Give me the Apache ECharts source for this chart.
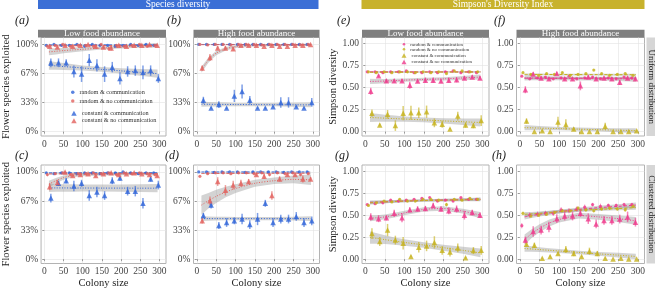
<!DOCTYPE html>
<html>
<head>
<meta charset="utf-8">
<script src="https://cdn.jsdelivr.net/npm/echarts@6/dist/echarts.min.js"></script>
<style>
html,body{margin:0;padding:0;background:#fff;}
#chart{width:655px;height:290px;}
</style>
</head>
<body>
<div id="chart"></div>
<script>
//colony sizes (x) and x positions where the fitted curves were read
var colony=[10,30,50,70,90,110,130,150,170,190,210,230,250,270,290];
var fitX=[12,30,50,75,100,150,200,250,295];
var xTicks=[0,50,100,150,200,250,300];
var spTicks=[0,1/3,2/3,1];
var siTicks=[0,0.25,0.5,0.75,1];

//points: [mean, half error bar]   rc=random&communication rn=random&no communication
//cc=constant&communication cn=constant&no communication
//fits: [fitted value, half band] at fitX

//(a) species, low food, uniform
var a_rc=[[.99,.01],[1,.005],[.99,.01],[.99,.01],[1,.005],[.98,.015],[1,.005],[.99,.01],[.99,.01],[.98,.015],[.99,.01],[1,.005],[.99,.01],[1,.005],[.99,.01]];
var a_rn=[[.98,.015],[.99,.01],[1,.005],[.98,.015],[.99,.01],[.99,.01],[.98,.015],[1,.005],[.95,.02],[.99,.01],[.98,.015],[.99,.01],[1,.005],[.98,.015],[.99,.01]];
var a_cc=[[.79,.05],[.79,.05],[.79,.04],[.69,.07],[.66,.09],[.82,.07],[.76,.07],[.66,.09],[.74,.06],[.61,.07],[.69,.06],[.70,.06],[.68,.08],[.70,.06],[.61,.05]];
var a_cn=[[.98,.02],[.97,.02],[.99,.01],[.98,.02],[.99,.01],[1,.005],[.98,.02],[.97,.02],[.96,.03],[.99,.01],[.98,.02],[.99,.01],[.99,.01],[1,.005],[.99,.01]];
var a_rcFit=[[.995,.004],[.995,.003],[.995,.003],[.995,.003],[.995,.003],[.995,.003],[.995,.003],[.995,.003],[.995,.004]];
var a_rnFit=[[.985,.006],[.985,.005],[.985,.005],[.986,.004],[.986,.004],[.987,.004],[.987,.004],[.988,.005],[.988,.006]];
var a_ccFit=[[.76,.05],[.754,.045],[.747,.04],[.739,.035],[.73,.03],[.714,.028],[.697,.03],[.68,.038],[.665,.048]];
var a_cnFit=[[.915,.04],[.922,.036],[.93,.03],[.938,.026],[.945,.022],[.959,.018],[.972,.018],[.983,.022],[.992,.026]];

//(b) species, high food, uniform
var b_rc=[[1,0],[1,0],[1,0],[1,0],[1,0],[1,0],[1,0],[1,0],[1,0],[1,0],[1,0],[1,0],[1,0],[1,0],[1,0]];
var b_rn=[[1,0],[.995,.003],[1,0],[1,0],[.995,.003],[1,0],[1,0],[1,0],[.995,.003],[1,0],[1,0],[1,0],[1,0],[.995,.003],[1,0]];
var b_cc=[[.36,.04],[.27,.01],[.31,.04],[.27,.01],[.41,.07],[.46,.08],[.36,.05],[.27,.01],[.27,.01],[.285,.01],[.335,.06],[.335,.06],[.285,.01],[.27,.01],[.335,.05]];
var b_cn=[[.73,.03],[.85,.04],[.96,.02],[.96,.02],[.95,.02],[.99,.01],[.99,.01],[.99,.01],[.98,.01],[.99,.01],[.98,.01],[.98,.01],[.99,.01],[.99,.01],[1,.005]];
var b_rcFit=[[1,.002],[1,.002],[1,.002],[1,.002],[1,.002],[1,.002],[1,.002],[1,.002],[1,.002]];
var b_rnFit=[[.998,.002],[.998,.002],[.998,.002],[.998,.002],[.998,.002],[.998,.002],[.998,.002],[.998,.002],[.998,.002]];
var b_ccFit=[[.315,.03],[.314,.027],[.313,.024],[.312,.021],[.311,.019],[.31,.018],[.309,.019],[.308,.023],[.307,.028]];
var b_cnFit=[[.71,.035],[.82,.03],[.90,.025],[.95,.02],[.975,.015],[.988,.012],[.992,.012],[.994,.012],[.995,.015]];

//(c) species, low food, clustered
var c_rc=[[.99,.01],[.98,.01],[.99,.01],[.99,.01],[.98,.01],[.99,.01],[.99,.01],[.98,.01],[.99,.01],[.99,.01],[1,.005],[.99,.01],[.98,.01],[.99,.01],[.99,.01]];
var c_rn=[[.97,.02],[.98,.015],[.99,.01],[.97,.02],[.98,.015],[.98,.015],[.99,.01],[.98,.015],[.99,.01],[.97,.02],[.99,.01],[.98,.015],[.99,.01],[.98,.015],[.97,.02]];
var c_cc=[[.70,.05],[.87,.03],[.90,.03],[.84,.06],[.87,.04],[.73,.06],[.77,.06],[.73,.05],[.90,.04],[.93,.03],[.78,.05],[.78,.06],[.64,.06],[.92,.03],[.85,.05]];
var c_cn=[[.83,.04],[.88,.03],[1,.01],[.96,.02],[.97,.02],[.98,.01],[.96,.02],[.98,.01],[.99,.01],[.97,.02],[.98,.01],[.99,.01],[.98,.01],[.97,.02],[.96,.02]];
var c_rcFit=[[.99,.004],[.99,.004],[.99,.004],[.99,.004],[.99,.004],[.99,.004],[.99,.004],[.99,.004],[.99,.004]];
var c_rnFit=[[.978,.006],[.978,.005],[.979,.005],[.979,.005],[.98,.005],[.98,.005],[.98,.005],[.981,.005],[.981,.006]];
var c_ccFit=[[.818,.048],[.817,.045],[.817,.043],[.816,.042],[.816,.041],[.815,.04],[.815,.041],[.814,.044],[.814,.048]];
var c_cnFit=[[.86,.04],[.90,.03],[.935,.025],[.96,.02],[.97,.018],[.975,.015],[.978,.015],[.98,.015],[.98,.02]];

//(d) species, high food, clustered
var d_rc=[[1,0],[1,0],[.995,.003],[1,0],[1,0],[1,0],[.995,.003],[1,0],[1,0],[1,0],[1,0],[.995,.003],[1,0],[1,0],[1,0]];
var d_rn=[[.95,.01],[.98,.01],[.99,.01],[.99,.01],[.98,.01],[.99,.01],[.99,.01],[.98,.01],[.99,.01],[.97,.02],[.99,.01],[.98,.01],[.99,.01],[.97,.02],[.98,.01]];
var d_cc=[[.50,.03],[.62,.04],[.385,.04],[.42,.05],[.44,.04],[.46,.06],[.396,.05],[.46,.07],[.64,.04],[.42,.05],[.46,.05],[.46,.05],[.49,.05],[.42,.05],[.44,.05]];
var d_cn=[[.44,.03],[.67,.05],[.89,.05],[.79,.06],[.85,.05],[.87,.04],[.89,.03],[.97,.02],[.95,.03],[.73,.05],[.92,.03],[.97,.02],[.97,.02],[.92,.04],[.92,.02]];
var d_rcFit=[[1,.002],[1,.002],[1,.002],[1,.002],[1,.002],[1,.002],[1,.002],[1,.002],[1,.002]];
var d_rnFit=[[.982,.006],[.983,.005],[.983,.005],[.984,.005],[.984,.005],[.985,.005],[.985,.005],[.986,.005],[.986,.006]];
var d_ccFit=[[.465,.028],[.465,.025],[.465,.022],[.465,.02],[.465,.019],[.465,.018],[.465,.019],[.465,.022],[.465,.027]];
var d_cnFit=[[.62,.11],[.67,.09],[.72,.075],[.77,.06],[.81,.05],[.87,.04],[.90,.038],[.915,.045],[.91,.06]];

//(e) simpson, low food, uniform
var e_rc=[[.68,.01],[.68,.01],[.67,.01],[.68,.01],[.68,.01],[.69,.01],[.67,.01],[.67,.01],[.68,.01],[.67,.01],[.68,.01],[.69,.01],[.67,.01],[.68,.01],[.67,.01]];
var e_rn=[[.68,.01],[.67,.01],[.68,.01],[.67,.01],[.68,.01],[.68,.01],[.67,.01],[.68,.01],[.67,.01],[.68,.01],[.66,.01],[.69,.01],[.69,.01],[.68,.01],[.68,.01]];
var e_cc=[[.21,.04],[.075,.015],[.196,.05],[.068,.06],[.21,.08],[.215,.08],[.215,.06],[.226,.07],[.10,.05],[.083,.04],[.03,.01],[.177,.05],[.075,.03],[.068,.03],[.125,.06]];
var e_cn=[[.46,.04],[.634,.015],[.577,.02],[.577,.02],[.577,.02],[.528,.04],[.574,.02],[.585,.03],[.585,.03],[.574,.02],[.585,.03],[.59,.03],[.61,.02],[.62,.02],[.61,.02]];
var e_rcFit=[[.68,.007],[.68,.006],[.68,.006],[.68,.005],[.68,.005],[.679,.005],[.679,.005],[.679,.006],[.679,.007]];
var e_rnFit=[[.674,.007],[.674,.006],[.675,.006],[.675,.005],[.675,.005],[.676,.005],[.677,.005],[.677,.006],[.678,.007]];
var e_ccFit=[[.16,.05],[.157,.045],[.153,.04],[.148,.035],[.143,.03],[.133,.027],[.122,.03],[.112,.036],[.103,.045]];
var e_cnFit=[[.57,.03],[.572,.027],[.575,.024],[.58,.021],[.585,.019],[.593,.018],[.60,.019],[.61,.022],[.62,.028]];

//(f) simpson, high food, uniform
var f_rc=[[.63,.01],[.60,.01],[.61,.01],[.62,.01],[.60,.01],[.61,.01],[.63,.01],[.60,.01],[.61,.01],[.62,.01],[.60,.01],[.61,.01],[.60,.01],[.62,.01],[.61,.01]];
var f_rn=[[.67,.01],[.65,.01],[.64,.01],[.66,.01],[.65,.01],[.67,.01],[.64,.01],[.65,.01],[.66,.01],[.70,.01],[.66,.01],[.64,.01],[.65,.01],[.66,.01],[.64,.01]];
var f_cc=[[.12,.03],[0,0],[.01,.01],[0,0],[.11,.06],[.08,.06],[.03,.02],[0,0],[0,0],[0,0],[.06,.04],[0,0],[0,0],[0,0],[.01,.01]];
var f_cn=[[.476,.04],[.655,.02],[.61,.02],[.60,.02],[.66,.02],[.60,.02],[.60,.02],[.52,.05],[.62,.02],[.60,.02],[.61,.02],[.60,.02],[.56,.03],[.61,.02],[.60,.02]];
var f_rcFit=[[.607,.012],[.607,.011],[.607,.01],[.607,.01],[.607,.01],[.607,.01],[.607,.01],[.607,.011],[.607,.012]];
var f_rnFit=[[.65,.012],[.65,.011],[.65,.01],[.649,.01],[.649,.01],[.648,.01],[.648,.01],[.647,.011],[.647,.012]];
var f_ccFit=[[.045,.03],[.043,.027],[.04,.024],[.037,.021],[.034,.019],[.028,.018],[.022,.019],[.016,.022],[.011,.027]];
var f_cnFit=[[.61,.03],[.61,.027],[.608,.025],[.606,.023],[.605,.022],[.603,.021],[.602,.022],[.60,.025],[.598,.03]];

//(g) simpson, low food, clustered
var g_rc=[[.62,.01],[.63,.01],[.64,.01],[.67,.01],[.66,.01],[.67,.01],[.68,.01],[.69,.01],[.70,.01],[.66,.01],[.67,.01],[.66,.01],[.70,.01],[.68,.01],[.68,.01]];
var g_rn=[[.61,.01],[.64,.01],[.66,.01],[.65,.01],[.68,.01],[.66,.01],[.66,.01],[.68,.01],[.68,.01],[.67,.01],[.62,.02],[.68,.01],[.67,.01],[.69,.01],[.68,.01]];
var g_cc=[[.29,.06],[.20,.05],[.33,.07],[.216,.05],[.18,.07],[.03,.01],[.134,.06],[.15,.06],[.19,.07],[.10,.05],[.08,.05],[.127,.05],[.015,.01],[.097,.04],[.10,.05]];
var g_cn=[[.48,.04],[.46,.04],[.47,.03],[.52,.04],[.47,.05],[.56,.03],[.57,.03],[.575,.03],[.61,.03],[.57,.03],[.55,.04],[.57,.04],[.50,.05],[.53,.03],[.50,.03]];
var g_rcFit=[[.645,.02],[.648,.018],[.652,.016],[.656,.015],[.66,.014],[.667,.013],[.672,.014],[.676,.016],[.68,.02]];
var g_rnFit=[[.64,.02],[.645,.018],[.65,.016],[.655,.015],[.66,.014],[.665,.013],[.67,.014],[.674,.016],[.678,.02]];
var g_ccFit=[[.245,.07],[.235,.06],[.222,.05],[.205,.042],[.19,.037],[.16,.032],[.13,.034],[.10,.04],[.07,.05]];
var g_cnFit=[[.465,.035],[.47,.03],[.48,.027],[.50,.027],[.525,.025],[.565,.025],[.575,.025],[.545,.027],[.50,.035]];

//(h) simpson, high food, clustered
var h_rc=[[.38,.03],[.50,.03],[.51,.03],[.52,.03],[.52,.03],[.56,.03],[.55,.03],[.57,.03],[.59,.03],[.62,.02],[.60,.03],[.61,.02],[.61,.02],[.62,.02],[.62,.02]];
var h_rn=[[.52,.02],[.49,.02],[.50,.02],[.51,.02],[.53,.02],[.55,.02],[.55,.02],[.58,.02],[.56,.02],[.55,.02],[.57,.02],[.58,.02],[.57,.02],[.56,.02],[.60,.02]];
var h_cc=[[.17,.02],[.157,.03],[.01,.005],[.03,.01],[.063,.02],[.11,.04],[.063,.03],[.03,.01],[.09,.04],[.063,.03],[.01,.005],[0,0],[.01,.005],[0,0],[0,0]];
var h_cn=[[.216,.04],[.314,.06],[.33,.05],[.365,.06],[.46,.05],[.49,.05],[.49,.05],[.52,.04],[.46,.06],[.40,.05],[.44,.05],[.44,.05],[.455,.05],[.48,.06],[.42,.05]];
var h_rcFit=[[.48,.03],[.495,.027],[.51,.025],[.525,.023],[.54,.022],[.565,.022],[.585,.022],[.60,.025],[.615,.03]];
var h_rnFit=[[.51,.025],[.515,.022],[.52,.02],[.53,.019],[.54,.018],[.555,.018],[.565,.018],[.575,.02],[.585,.025]];
var h_ccFit=[[.12,.035],[.115,.03],[.108,.027],[.10,.024],[.092,.022],[.076,.02],[.06,.022],[.045,.026],[.03,.032]];
var h_cnFit=[[.22,.06],[.29,.05],[.35,.045],[.41,.04],[.45,.035],[.495,.033],[.48,.033],[.46,.037],[.435,.045]];

var BLUE='#2f64d8', RED='#e2625e', PINK='#ef3a8c', OLIVE='#c6b11c';
var BAND='rgba(150,150,150,0.42)';
var FONT='"Liberation Serif", "DejaVu Serif", serif';

var groups=['rc','rn','cc','cn'];
var groupName={rc:'random & communication',rn:'random & no communication',cc:'constant & communication',cn:'constant & no communication'};
var dodge={rc:-5,rn:-2,cn:4,cc:7};   //position_dodge
var look={
	sp:{rc:[BLUE,'circle'],rn:[RED,'circle'],cc:[BLUE,'triangle'],cn:[RED,'triangle']},
	si:{rc:[PINK,'circle'],rn:[OLIVE,'circle'],cc:[OLIVE,'triangle'],cn:[PINK,'triangle']}
};

var rowTop=[37.5,165], rowH=98.5;
var colL=[38,193.5,362,516.5], colW=[128,126,127,128];
var panels=[
	{kind:'sp',row:0,col:0,pts:{rc:a_rc,rn:a_rn,cc:a_cc,cn:a_cn},fit:{rc:a_rcFit,rn:a_rnFit,cc:a_ccFit,cn:a_cnFit}},
	{kind:'sp',row:0,col:1,pts:{rc:b_rc,rn:b_rn,cc:b_cc,cn:b_cn},fit:{rc:b_rcFit,rn:b_rnFit,cc:b_ccFit,cn:b_cnFit}},
	{kind:'sp',row:1,col:0,pts:{rc:c_rc,rn:c_rn,cc:c_cc,cn:c_cn},fit:{rc:c_rcFit,rn:c_rnFit,cc:c_ccFit,cn:c_cnFit}},
	{kind:'sp',row:1,col:1,pts:{rc:d_rc,rn:d_rn,cc:d_cc,cn:d_cn},fit:{rc:d_rcFit,rn:d_rnFit,cc:d_ccFit,cn:d_cnFit}},
	{kind:'si',row:0,col:2,pts:{rc:e_rc,rn:e_rn,cc:e_cc,cn:e_cn},fit:{rc:e_rcFit,rn:e_rnFit,cc:e_ccFit,cn:e_cnFit}},
	{kind:'si',row:0,col:3,pts:{rc:f_rc,rn:f_rn,cc:f_cc,cn:f_cn},fit:{rc:f_rcFit,rn:f_rnFit,cc:f_ccFit,cn:f_cnFit}},
	{kind:'si',row:1,col:2,pts:{rc:g_rc,rn:g_rn,cc:g_cc,cn:g_cn},fit:{rc:g_rcFit,rn:g_rnFit,cc:g_ccFit,cn:g_cnFit}},
	{kind:'si',row:1,col:3,pts:{rc:h_rc,rn:h_rn,cc:h_cc,cn:h_cn},fit:{rc:h_rcFit,rn:h_rnFit,cc:h_ccFit,cn:h_cnFit}}
];

var grids=[], xAxes=[], yAxes=[], series=[];

function minors(t){
	var out=t.slice();
	for(var i=0;i<t.length-1;i++){ out.push((t[i]+t[i+1])/2); }
	return out;
}

//gray confidence band drawn as one polygon
function bandRender(fit){
	return function(params,api){
		if(params.dataIndex!==0){ return null; }
		var up=[], lo=[];
		for(var k=0;k<fit.length;k++){
			up.push(api.coord([fitX[k],fit[k][0]+fit[k][1]]));
			lo.unshift(api.coord([fitX[k],fit[k][0]-fit[k][1]]));
		}
		return {type:'polygon',shape:{points:up.concat(lo)},style:{fill:BAND}};
	};
}

function errRender(color,w){
	return function(params,api){
		var p1=api.coord([api.value(0),api.value(1)]);
		var p2=api.coord([api.value(0),api.value(2)]);
		return {type:'line',shape:{x1:p1[0],y1:p1[1],x2:p2[0],y2:p2[1]},style:{stroke:color,lineWidth:w,opacity:0.62}};
	};
}

panels.forEach(function(p,i){
	var sp=p.kind==='sp';
	var yt=sp?spTicks:siTicks;
	grids.push({left:colL[p.col],top:rowTop[p.row],width:colW[p.col],height:rowH,show:true,borderColor:'#b3b3b3',borderWidth:1,backgroundColor:'#fff'});
	xAxes.push({
		type:'value',gridIndex:i,min:-8.5,max:317,
		axisLine:{show:false},
		axisTick:{show:true,length:2,customValues:xTicks,lineStyle:{color:'#999'}},
		axisLabel:{customValues:xTicks,fontSize:9.5,color:'#444',margin:3,fontFamily:FONT},
		splitLine:{show:true,customValues:minors(xTicks),lineStyle:{color:'#e2e2e2',width:0.6}},
		name:p.row===1?'Colony size':'',nameLocation:'middle',nameGap:12.5,
		nameTextStyle:{fontSize:10.5,color:'#222',fontFamily:FONT}
	});
	yAxes.push({
		type:'value',gridIndex:i,min:-0.05,max:sp?1.08:1.07,
		axisLine:{show:false},
		axisTick:{show:true,length:2,customValues:yt,lineStyle:{color:'#999'}},
		axisLabel:{customValues:yt,fontSize:9.5,color:'#444',margin:3,fontFamily:FONT,
			formatter:sp?function(v){return Math.round(v*100)+'%';}:function(v){return v.toFixed(2);}},
		splitLine:{show:true,customValues:minors(yt),lineStyle:{color:'#e2e2e2',width:0.6}},
		name:(p.col===0)?'Flower species exploited':(p.col===2?'Simpson diversity':''),
		nameLocation:'middle',nameGap:p.col===0?25:23,
		nameTextStyle:{fontSize:10.5,color:'#222',fontFamily:FONT}
	});
	var lk=look[p.kind];
	//bands
	groups.forEach(function(g){
		var fit=p.fit[g];
		series.push({type:'custom',name:'band',xAxisIndex:i,yAxisIndex:i,silent:true,z:1,
			data:fit.map(function(d,k){return [fitX[k],d[0]-d[1],d[0]+d[1]];}),
			encode:{x:0,y:[1,2]},renderItem:bandRender(fit)});
	});
	//fitted lines
	groups.forEach(function(g){
		var fit=p.fit[g];
		series.push({type:'line',name:'fit',xAxisIndex:i,yAxisIndex:i,silent:true,z:2,
			smooth:0.3,symbol:'none',
			data:fit.map(function(d,k){return [fitX[k],d[0]];}),
			lineStyle:{color:lk[g][0],width:1,type:g.charAt(0)==='r'?[3,2]:[1,1.6]}});
	});
	//error bars and points
	groups.forEach(function(g){
		var tri=lk[g][1]==='triangle';
		series.push({type:'custom',name:'err',xAxisIndex:i,yAxisIndex:i,silent:true,z:3,
			data:p.pts[g].map(function(d,k){return [colony[k]+dodge[g],d[0]-d[1],d[0]+d[1]];}),
			encode:{x:0,y:[1,2]},renderItem:errRender(lk[g][0],tri?1.5:0.9)});
	});
	groups.forEach(function(g){
		var tri=lk[g][1]==='triangle';
		series.push({type:'scatter',name:groupName[g],xAxisIndex:i,yAxisIndex:i,z:4,
			symbol:lk[g][1],symbolSize:tri?5.5:3.2,
			itemStyle:{color:lk[g][0]},
			data:p.pts[g].map(function(d,k){return [colony[k]+dodge[g],d[0]];})});
	});
});

function legendItems(kind,gs){
	return gs.map(function(g){
		return {name:groupName[g],icon:look[kind][g][1],itemStyle:{color:look[kind][g][0]}};
	});
}
var legends=[
	{left:71,top:88.8,orient:'vertical',padding:0,itemWidth:3.5,itemHeight:3.5,itemGap:1.7,
		textStyle:{fontSize:6.2,lineHeight:7,color:'#333',fontFamily:FONT},data:legendItems('sp',['rc','rn'])},
	{left:71.2,top:109.8,orient:'vertical',padding:0,itemWidth:5.5,itemHeight:5,itemGap:0.4,
		textStyle:{fontSize:6.2,lineHeight:7,color:'#333',fontFamily:FONT},data:legendItems('sp',['cc','cn'])},
	{left:402.7,top:41.8,orient:'vertical',padding:0,itemWidth:2.6,itemHeight:2.6,itemGap:0,
		textStyle:{fontSize:5,lineHeight:5,color:'#333',fontFamily:FONT},data:legendItems('si',['rc','rn'])},
	{left:401.5,top:53,orient:'vertical',padding:0,itemWidth:5,itemHeight:4.5,itemGap:1.2,
		textStyle:{fontSize:5,lineHeight:5.2,color:'#333',fontFamily:FONT},data:legendItems('si',['cc','cn'])}
];

//strips, banners and panel letters
var graphics=[];
function txt(x,y,s,o){
	var st={text:s,x:0,y:0,font:(o.font||'9px')+' '+FONT,fill:o.fill||'#222',align:o.align||'center',verticalAlign:'middle'};
	return {type:'text',x:x,y:y,rotation:o.rot||0,style:st,z:10};
}
graphics.push({type:'rect',shape:{x:38,y:0,width:280.5,height:9},style:{fill:'#3b6fd6'}});
graphics.push(txt(178,4.8,'Species diversity',{font:'9.5px',fill:'#fff'}));
graphics.push({type:'rect',shape:{x:361.5,y:0,width:283,height:9},style:{fill:'#c8b22c'}});
graphics.push(txt(503,4.8,"Simpson's Diversity Index",{font:'9.5px',fill:'#fff'}));
[0,1,2,3].forEach(function(c){
	graphics.push({type:'rect',shape:{x:colL[c],y:29.8,width:colW[c],height:rowTop[0]-29.8},style:{fill:'#7f7f7f'}});
	graphics.push(txt(colL[c]+colW[c]/2,33.8,c%2===0?'Low food abundance':'High food abundance',{font:'9px',fill:'#fff'}));
});
[['Uniform distribution',0],['Clustered distribution',1]].forEach(function(s){
	graphics.push({type:'rect',shape:{x:646.5,y:rowTop[s[1]],width:10,height:rowH},style:{fill:'#d6d6d6'}});
	graphics.push(txt(651.5,rowTop[s[1]]+rowH/2,s[0],{font:'9px',fill:'#1a1a1a',rot:-Math.PI/2}));
});
var letters=[['(a)',15,21],['(b)',167,21],['(e)',337,21],['(f)',494,21],['(c)',15,156],['(d)',165,156],['(g)',335,156],['(h)',492,156]];
letters.forEach(function(l){
	graphics.push(txt(l[1],l[2],l[0],{font:'italic 12px',fill:'#222',align:'left'}));
});

var chart=echarts.init(document.getElementById('chart'));
chart.setOption({
	animation:false,
	backgroundColor:'#ffffff',
	grid:grids,
	xAxis:xAxes,
	yAxis:yAxes,
	legend:legends,
	graphic:graphics,
	series:series
});
</script>
</body>
</html>
